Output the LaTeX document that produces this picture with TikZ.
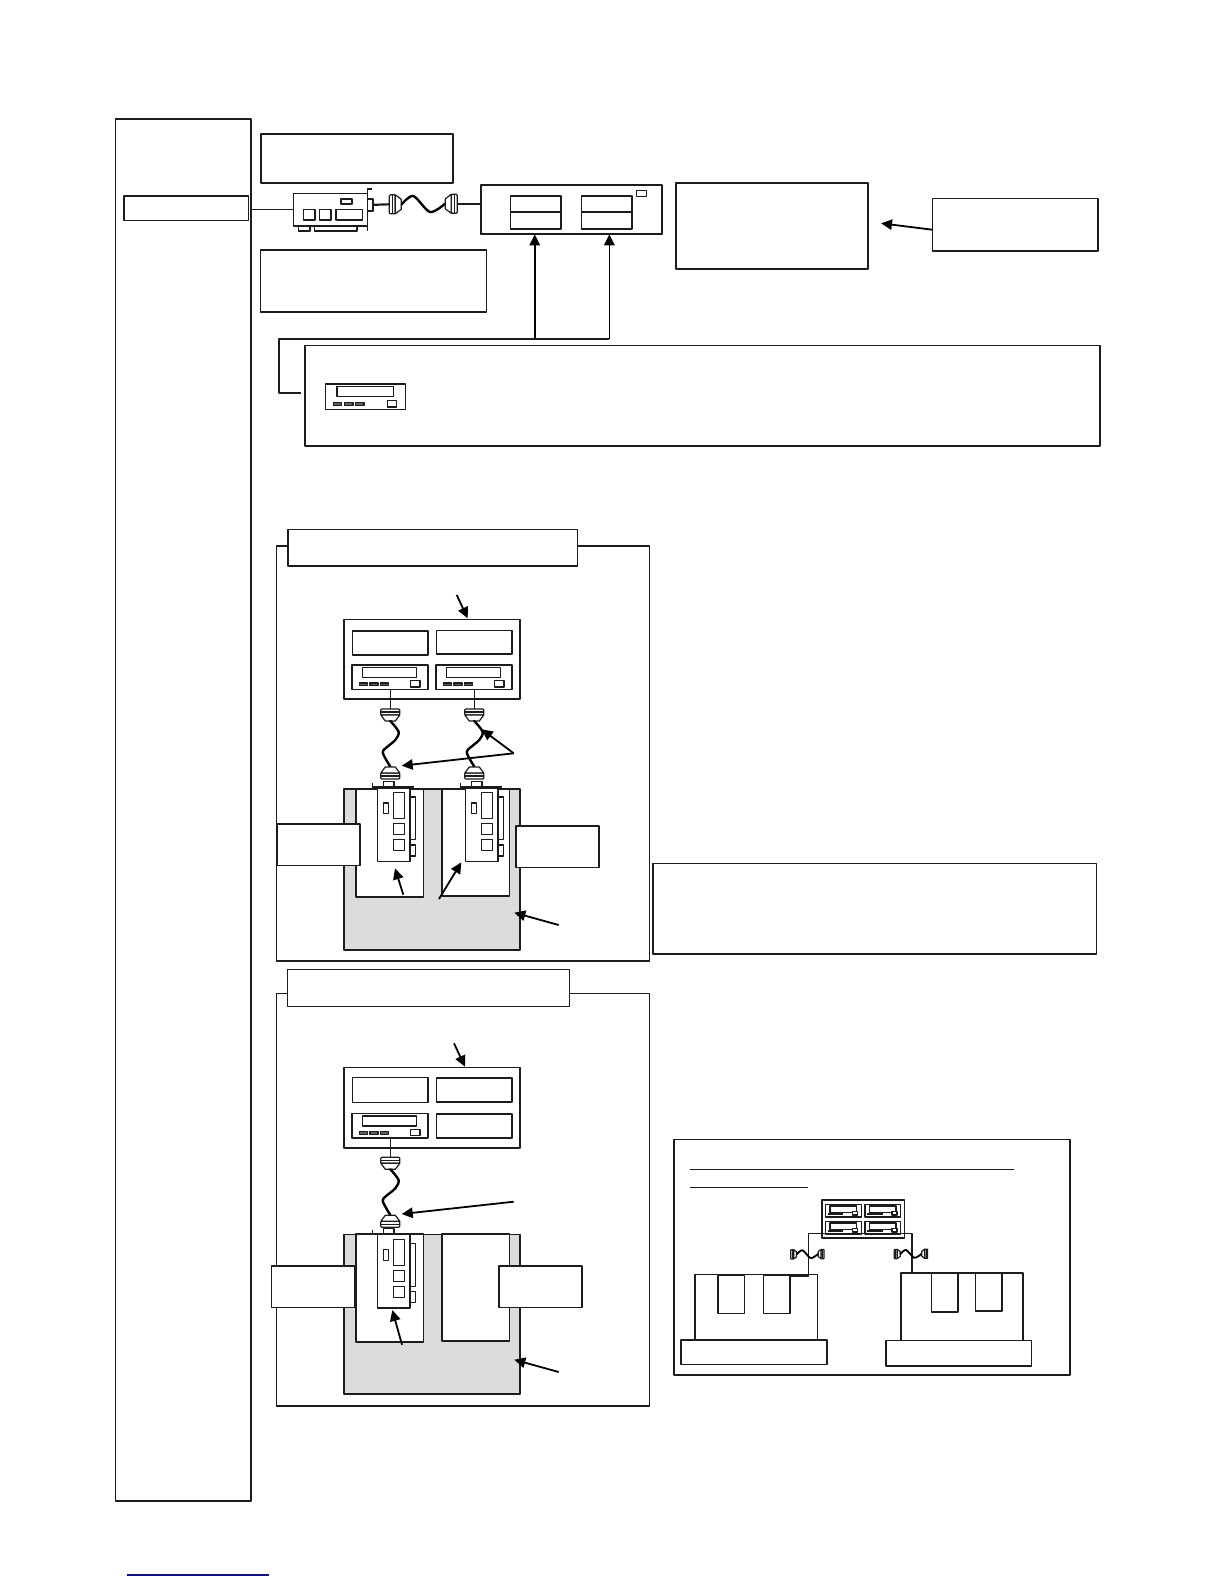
\documentclass[tikz,border=0pt]{standalone}
\usetikzlibrary{arrows.meta}
\definecolor{ink}{HTML}{1C1C1C}
\definecolor{shade}{HTML}{DCDCDC}
\definecolor{navy}{HTML}{10107F}
% named box from its corners, in pixels of the sheet
\newcommand{\boxnode}[6][panel]{%
  \node[#1,minimum width={(#5-#3)*.5pt},minimum height={(#6-#4)*.5pt}] (#2)
    at ({(#3+#5)/2},{(#4+#6)/2}) {};}
\tikzset{
  panel/.style={draw=ink,fill=white,line width=.8pt,inner sep=0pt,outer sep=0pt},
  heavy/.style={panel,line width=1.1pt},
  grayblock/.style={panel,fill=shade},
  wire/.style={draw=ink,line width=.8pt},
  thickwire/.style={draw=ink,line width=1.1pt},
  pointer/.style={draw=black,line width=.9pt,-{Triangle[length=5.5pt,width=5.2pt]}},
  part/.style={draw=ink,fill=white,line width=.6pt},
  rope/.style={draw=black,line width=1.2pt,line cap=round},
  minirope/.style={rope,line width=.9pt},
  plug/.pic={
    \draw[part] (-9.5,1) -- (-8.5,0) -- (8.5,0) -- (9.5,1) -- (9.5,5) -- (8.5,6) -- (-8.5,6) -- (-9.5,5) -- cycle;
    \draw[part] (-9.5,3) -- (9.5,3);
    \draw[part] (-9.5,6) -- (-5,12) -- (5,12) -- (9.5,6) -- cycle;
  },
  drive/.pic={
    \draw[part] (0,0) rectangle (76,24.3);
    \draw[part] (10.7,2.3) rectangle (64.7,12.3);
    \foreach \bx in {7.3,18,28.6}
      \draw[part,fill=ink!70] (\bx,18) rectangle +(8,2.4);
    \draw[part] (58.7,15.7) rectangle (68,22);
  },
  minidrive/.pic={
    \draw[part] (0,0) rectangle (35.6,12.7);
    \draw[part] (4.3,1.7) rectangle (31,8.3);
    \draw[line width=1pt,ink] (2,9.6) -- (17.7,9.6);
    \draw[part] (27,7.3) rectangle (32,10.7);
  },
  tallcard/.pic={
    \draw[part] (32.7,9.3) rectangle (38,52);
    \draw[part] (32.7,57.3) rectangle (38,68.3);
    \draw[part,line width=.8pt] (0,0) rectangle (32.7,73.6);
    \draw[part] (6,15.3) rectangle (11.4,25.6);
    \draw[part] (16.4,4.6) rectangle (27.4,31);
    \draw[part] (16.4,36) rectangle (27.4,46.6);
    \draw[part] (16.4,51.6) rectangle (27.4,62.6);
    \draw[part] (6,-6) rectangle (16.7,-1);
    \draw[ink,line width=.6pt] (-5,-5) -- (-5,-1);
    \draw[ink,line width=1pt] (-5,-1) -- (36.7,-1);
  },
  vcable/.pic={
    \pic at (0,0) {plug};
    \draw[rope] plot[smooth] coordinates {(0,12) (8.3,22.7) (5,31) (-6.7,41) (-6.7,46) (0,57.7)};
    \pic[rotate=180] at (0,70) {plug};
  },
  hcable/.pic={
    \pic[rotate=90,transform shape] at (0,0) {plug};
    \draw[rope] plot[smooth] coordinates {(12.4,0) (24,-8.3) (40.7,7.7) (55.6,-.5)};
    \pic[rotate=-90,transform shape] at (68,-.5) {plug};
  },
  minicable/.pic={
    \pic[rotate=90,transform shape] at (0,0) {plug};
    \draw[minirope] plot[smooth] coordinates {(12.4,0) (24,-8.3) (40.7,7.7) (55.6,-.5)};
    \pic[rotate=-90,transform shape] at (68,-.5) {plug};
  },
}

\begin{document}
\begin{tikzpicture}[x=.5pt,y=-.5pt,line join=round]
  \useasboundingbox (0,0) rectangle (1224,1584);

  % left column
  \boxnode[panel,line width=.95pt]{sidebar}{115.5}{119}{251}{1501}
  \boxnode{hostlabel}{123.7}{195.7}{248.5}{220.3}

  % top row
  \boxnode[heavy]{noteA}{260.7}{133.7}{452.8}{182.7}
  \boxnode{noteB}{260.3}{249.7}{486.5}{311.7}
  \boxnode{bay}{480.8}{185}{661.8}{234.3}
  \draw[thickwire] (bay.south west) -- (bay.south east);
  \boxnode{slotA}{510.6}{195.7}{561}{228.7}
  \boxnode{slotB}{581.4}{195.7}{632}{228.7}
  \draw[wire] (slotA.west) -- (slotA.east);
  \draw[wire] (slotB.west) -- (slotB.east);
  \boxnode[part,inner sep=0pt,outer sep=0pt]{baylamp}{636.5}{190.3}{646.5}{196.3}
  \boxnode{noteC}{675.7}{182.7}{868}{269}
  \boxnode{noteD}{932.3}{198.3}{1097.7}{250.7}
  \coordinate (noteTip) at (881,223.3);
  \coordinate (noteTail) at (932.3,229.7);
  \draw[pointer] (noteTail) -- (noteTip);

  % host card and its cable
  \boxnode{card}{293.3}{193.3}{367.3}{225.7}
  \boxnode{cardPortA}{303.3}{209.3}{314.7}{220}
  \boxnode{cardPortB}{319.3}{209.3}{330.7}{220}
  \boxnode{cardPortC}{335.7}{209.3}{362.3}{220}
  \boxnode{cardChip}{340.7}{199}{351.7}{204}
  \boxnode{cardFootA}{298.3}{225.7}{310}{230.7}
  \boxnode{cardFootB}{314.3}{225.7}{356.7}{230.7}
  \boxnode{cardStub}{367.3}{199}{372.7}{210.7}
  \draw[wire] (367.3,230.7) -- (367.3,189) -- (371.7,189);
  \draw[wire] (sidebar.east |- card.west) -- (card.west);
  \coordinate (hcL) at (389.3,204.3);
  \coordinate (hcR) at (457.3,203.8);
  \pic at (hcL) {hcable};
  \draw[thickwire] (cardStub.east) -- (hcL);
  \draw[thickwire] (hcR) -- (hcR -| bay.west);

  % loader box and bus
  \boxnode{loader}{304.7}{345.3}{1100}{446}
  \pic[scale=1.045] at (325.8,384) {drive};
  \coordinate (busEnd) at (301,392.7);
  \coordinate (busCorner) at (279,392.7);
  \coordinate (busTop) at (279,338.7);
  \coordinate (busA) at (534.7,338.7);
  \coordinate (busB) at (609.4,338.7);
  \draw[thickwire] (busEnd) -- (busCorner) -- (busTop) -- (busB);
  \draw[pointer] (busA) -- (busA |- bay.south);
  \draw[pointer] (busB) -- (busB |- bay.south);

  % first cluster
  \boxnode{clusterA}{276.3}{545.7}{649.3}{961}
  \boxnode{clusterAtitle}{287.7}{529.3}{577.3}{566}
  \boxnode{unitA}{344}{619.3}{519.7}{698.7}
  \boxnode{unitAslotA}{352.3}{630.7}{427.7}{654.7}
  \boxnode{unitAslotB}{436.3}{630.3}{511.7}{654}
  \pic at (352,665) {drive};
  \pic at (436,665) {drive};
  \boxnode[grayblock]{shelfA}{344}{789}{519.7}{950}
  \boxnode{bayAL}{355.7}{789}{423.3}{897}
  \boxnode{bayAR}{441.7}{789}{509.3}{895.7}
  \foreach \cx in {390.3,474.3} {
    \draw[wire] (\cx,689.3) -- (\cx,709);
    \pic at (\cx,709) {vcable};
  }
  \pic at (377.3,787.7) {tallcard};
  \pic at (465.3,787.7) {tallcard};
  \boxnode{sideAL}{277}{824}{360}{865.3}
  \boxnode{sideAR}{515.7}{825.7}{598.7}{867.3}
  \coordinate (uaS) at (456.7,595);   \coordinate (uaT) at (467.7,618.3);
  \coordinate (cbS) at (513.7,753.3); \coordinate (cbT) at (401.7,765.7); \coordinate (cbU) at (481.7,729.3);
  \coordinate (caS) at (403.3,894.7); \coordinate (caT) at (395,868.3);
  \coordinate (cdS) at (439,899);     \coordinate (cdT) at (461.3,862.3);
  \coordinate (shS) at (558.7,925);   \coordinate (shT) at (514.3,912.7);
  \draw[pointer] (uaS) -- (uaT);
  \draw[pointer] (cbS) -- (cbT);
  \draw[pointer] (cbS) -- (cbU);
  \draw[pointer] (caS) -- (caT);
  \draw[pointer] (cdS) -- (cdT);
  \draw[pointer] (shS) -- (shT);

  % second cluster
  \boxnode{clusterB}{276.3}{993.3}{649.3}{1406}
  \boxnode{clusterBtitle}{287.3}{969.3}{569.3}{1006.3}
  \boxnode{unitB}{344}{1067.3}{519.7}{1147.7}
  \boxnode{unitBslotA}{352.3}{1077.3}{427.7}{1102.3}
  \boxnode{unitBslotB}{436.3}{1077.7}{511.7}{1101.7}
  \boxnode{unitBslotC}{436.3}{1113.7}{511.7}{1137.7}
  \pic at (352,1113.7) {drive};
  \boxnode[grayblock]{shelfB}{344}{1234.3}{519.7}{1393.7}
  \boxnode{bayBL}{355.7}{1234}{423.3}{1342}
  \boxnode{bayBR}{441.7}{1234}{509.3}{1341}
  \draw[wire] (390.3,1138) -- (390.3,1157.3);
  \pic at (390.3,1157.3) {vcable};
  \pic at (377.3,1234.5) {tallcard};
  \boxnode{sideBL}{271.3}{1266}{354.3}{1307.3}
  \boxnode{sideBR}{498.7}{1265.7}{581.7}{1307.3}
  \coordinate (ubS) at (454,1043.3);   \coordinate (ubT) at (465,1066.7);
  \coordinate (ccS) at (513.7,1201.7); \coordinate (ccT) at (401.7,1214);
  \coordinate (ceS) at (402,1344.7);   \coordinate (ceT) at (392.3,1310);
  \coordinate (sbS) at (558.7,1372);   \coordinate (sbT) at (514.3,1359.7);
  \draw[pointer] (ubS) -- (ubT);
  \draw[pointer] (ccS) -- (ccT);
  \draw[pointer] (ceS) -- (ceT);
  \draw[pointer] (sbS) -- (sbT);

  % lower right note
  \boxnode{noteE}{653}{863.3}{1096.3}{953.7}

  % shared unit inset
  \boxnode{inset}{674}{1139.3}{1069.7}{1375}
  \draw[wire,line width=.7pt] (690,1169.3) -- (1014,1169.3);
  \draw[wire,line width=.7pt] (690,1187.3) -- (807.7,1187.3);
  \boxnode{hostL}{694.7}{1274.3}{817.3}{1339.7}
  \boxnode{hostLslotA}{717.7}{1275.3}{744.3}{1313.3}
  \boxnode{hostLslotB}{763.3}{1275.3}{790}{1313.3}
  \boxnode{baseL}{680.7}{1339.7}{826.7}{1364.3}
  \boxnode{hostR}{900.7}{1272.7}{1023}{1340.3}
  \boxnode{hostRslotA}{931.3}{1273.3}{958}{1311.7}
  \boxnode{hostRslotB}{975.3}{1273.3}{1002}{1311}
  \boxnode{baseR}{885.7}{1340.3}{1031.3}{1366}
  \boxnode{shared}{821.7}{1199.7}{904.3}{1238}
  \foreach \dx/\dy in {825.7/1204.3,865/1204.3,825.7/1221.3,865/1221.3}
    \pic at (\dx,\dy) {minidrive};
  \coordinate (lineL) at (808.3,1233.3);
  \coordinate (lineR) at (911.7,1233.3);
  \coordinate (footL) at (808.3,1276);
  \coordinate (footR) at (911.7,1272.7);
  \draw[wire] (hostLslotB.north east |- footL) -- (footL) -- (lineL) -- (lineR) -- (footR);
  \pic[scale=.49] at (790.7,1254.3) {minicable};
  \pic[scale=.49] at (894.3,1254) {minicable};

  % rule at the foot of the sheet
  \coordinate (ruleL) at (127.3,1575);
  \coordinate (ruleR) at (269,1575);
  \draw[navy,line width=.6pt] (ruleL) -- (ruleR);
\end{tikzpicture}
\end{document}
